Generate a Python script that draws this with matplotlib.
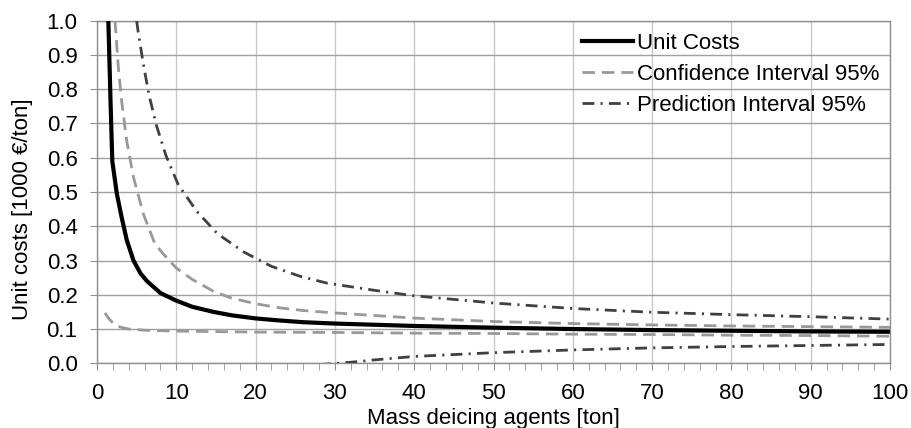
import numpy as np
import matplotlib
matplotlib.use("Agg")
import matplotlib.pyplot as plt
from matplotlib.ticker import MultipleLocator

plt.rcParams["font.family"] = ["Liberation Sans", "DejaVu Sans"]
plt.rcParams["lines.scale_dashes"] = False

# values
unit_x = [1.43, 1.7, 1.93, 2.5, 3.1, 3.75, 4.6, 5.5, 6.3, 8, 10, 12, 14.7, 17, 20, 23, 26, 30, 40, 50, 60, 70, 80, 90, 100]
unit_y = [1.0, 0.77, 0.59, 0.495, 0.427, 0.36, 0.30, 0.262, 0.24, 0.205, 0.183, 0.165, 0.15, 0.14, 0.131, 0.125, 0.12, 0.116, 0.109, 0.104, 0.100, 0.097, 0.095, 0.093, 0.092]

ci_up_x = [2.27, 2.69, 3.1, 3.74, 4.6, 5.84, 7.3, 8.4, 10, 12, 14.7, 17, 20, 23, 26, 30, 40, 50, 60, 70, 80, 90, 100]
ci_up_y = [1.0, 0.864, 0.767, 0.65, 0.543, 0.436, 0.349, 0.318, 0.278, 0.245, 0.21, 0.19, 0.174, 0.162, 0.154, 0.147, 0.132, 0.122, 0.116, 0.112, 0.109, 0.107, 0.105]

ci_lo_x = [1.0, 1.5, 2.0, 2.9, 4.0, 6.3, 10, 20, 30, 40, 50, 60, 70, 80, 90, 100]
ci_lo_y = [0.147, 0.13, 0.118, 0.106, 0.100, 0.096, 0.094, 0.091, 0.090, 0.088, 0.087, 0.085, 0.084, 0.082, 0.081, 0.079]

pi_up_x = [5.0, 5.2, 5.84, 6.56, 7.5, 8.7, 10.25, 12.6, 15.2, 18.5, 22, 25.6, 29, 35, 40, 50, 60, 70, 80, 90, 100]
pi_up_y = [1.0, 0.966, 0.874, 0.783, 0.694, 0.606, 0.521, 0.443, 0.378, 0.325, 0.283, 0.254, 0.234, 0.213, 0.197, 0.176, 0.160, 0.149, 0.142, 0.136, 0.129]

pi_lo_x = [28, 32, 35, 40, 50, 60, 70, 80, 90, 100]
pi_lo_y = [-0.004, 0.003, 0.010, 0.020, 0.031, 0.039, 0.045, 0.049, 0.052, 0.055]

fig = plt.figure(figsize=(9.11, 4.28), dpi=100)
ax = fig.add_axes([97 / 911, 1 - 363.3 / 428, 793 / 911, 342.6 / 428])

ax.plot(unit_x, unit_y, color="black", lw=3.0, label="Unit Costs", zorder=5)
ax.plot(ci_up_x, ci_up_y, color="#999999", lw=2.0, dashes=(9, 5),
        label="Confidence Interval 95%", zorder=4)
ax.plot(ci_lo_x, ci_lo_y, color="#999999", lw=2.0, dashes=(9, 5), zorder=4)
ax.plot(pi_up_x, pi_up_y, color="#404040", lw=2.0, dashes=(8.5, 4.5, 1.5, 4.5),
        label="Prediction Interval 95%", zorder=4)
ax.plot(pi_lo_x, pi_lo_y, color="#404040", lw=2.0, dashes=(8.5, 4.5, 1.5, 4.5), zorder=4)

ax.set_xlim(0, 100)
ax.set_ylim(0, 1.0)
ax.xaxis.set_major_locator(MultipleLocator(10))
ax.xaxis.set_minor_locator(MultipleLocator(2))
ax.yaxis.set_major_locator(MultipleLocator(0.1))
ax.yaxis.set_major_formatter(plt.FuncFormatter(lambda v, p: f"{v:.1f}"))

ax.grid(axis="y", color="#a0a0a0", lw=1.0)
ax.grid(axis="x", color="#c8c8c8", lw=1.0)
ax.set_axisbelow(True)
for s in ax.spines.values():
    s.set_color("#909090")
    s.set_linewidth(1.0)

ax.tick_params(axis="both", which="both", direction="out", color="#909090",
               labelsize=16)
ax.tick_params(axis="both", which="major", length=5)
ax.tick_params(axis="x", which="minor", length=5)
ax.tick_params(axis="x", which="major", pad=9)
ax.tick_params(axis="y", which="major", pad=9)

ax.set_xlabel("Mass deicing agents [ton]", fontsize=16, labelpad=3)
ax.set_ylabel("Unit costs [1000 €/ton]", fontsize=16)
ax.yaxis.set_label_coords(-0.081, 0.45)

ax.legend(loc="upper left", bbox_to_anchor=(0.600, 0.99), frameon=False,
          fontsize=16, handlelength=2.3, handletextpad=0.2, labelspacing=0.45,
          borderaxespad=0)

fig.savefig("out.png", dpi=100)
plt.close()
